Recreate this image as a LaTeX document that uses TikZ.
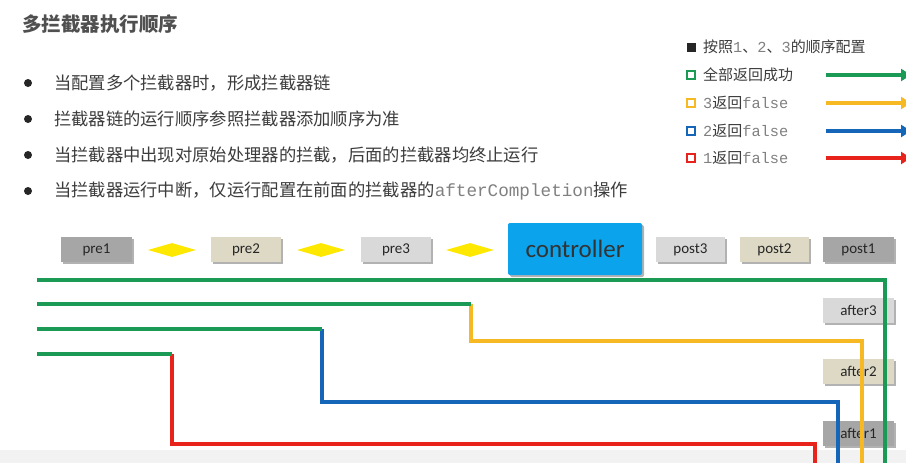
\documentclass[tikz,border=0pt]{standalone}
\usepackage{fontspec}
\setmainfont{Carlito}
\newfontfamily\cjk{Noto Sans CJK SC}
\newfontfamily\monof[Scale=1.02]{Liberation Mono}
\usetikzlibrary{shapes.geometric,shadows,arrows.meta}
\definecolor{gA}{HTML}{1B9A55}
\definecolor{yA}{HTML}{F7B923}
\definecolor{bA}{HTML}{1565B8}
\definecolor{rA}{HTML}{E8231C}
\definecolor{txt}{HTML}{3C3C3C}
\definecolor{mtxt}{HTML}{808080}
\definecolor{dgray}{HTML}{A6A6A6}
\definecolor{beige}{HTML}{DDD9C4}
\definecolor{lgray}{HTML}{D9D9D9}
\definecolor{ctrl}{HTML}{0AA3EC}
\definecolor{dia}{HTML}{FFE800}
\newcommand{\mtext}[1]{{\monof\color{mtxt}#1}}
\begin{document}
\begin{tikzpicture}[x=1pt,y=-1pt,
  box/.style={inner sep=0pt, minimum height=25pt, font=\fontsize{15}{15}\selectfont, text=black!85,
    drop shadow={shadow xshift=2pt,shadow yshift=-2pt,opacity=0.3,fill=black}},
  dmd/.style={diamond, fill=dia, inner sep=0pt, minimum width=48pt, minimum height=14pt},
  flow/.style={line width=4pt},
  bullet/.style={circle, fill=black!85, inner sep=0pt, minimum size=8pt},
  btext/.style={anchor=west, inner sep=0pt, text=txt, font=\fontsize{17.3}{17.3}\selectfont\cjk},
  ltext/.style={anchor=west, inner sep=0pt, text=txt, font=\fontsize{15}{15}\selectfont\cjk},
  lsq/.style={draw, line width=2pt, minimum size=8pt, inner sep=0pt},
  larrow/.style={line width=4pt, -{Triangle[length=10pt,width=12pt]}}]
\clip (0,0) rectangle (906,463);
\fill[white] (0,0) rectangle (906,463);
\fill[black!5] (0,450) rectangle (906,463);

% title
\node[anchor=west, inner sep=0pt, text=txt!90, font=\fontsize{19.5}{19.5}\selectfont\cjk\bfseries] (title) at (22,24) {多拦截器执行顺序};

% bullets
\node[bullet] (b1) at (28,83) {};
\node[bullet] (b2) at (28,119) {};
\node[bullet] (b3) at (28,155) {};
\node[bullet] (b4) at (28,191) {};
\node[btext] (t1) at (54,83) {当配置多个拦截器时，形成拦截器链};
\node[btext] (t2) at (54,119) {拦截器链的运行顺序参照拦截器添加顺序为准};
\node[btext] (t3) at (54,155) {当拦截器中出现对原始处理器的拦截，后面的拦截器均终止运行};
\node[btext] (t4) at (54,191) {当拦截器运行中断，仅运行配置在前面的拦截器的\mtext{afterCompletion}操作};

% legend
\node[fill=black!85, minimum size=9pt, inner sep=0pt] (q0) at (691,47) {};
\node[lsq, draw=gA] (q1) at (691,75) {};
\node[lsq, draw=yA] (q2) at (691,103) {};
\node[lsq, draw=bA] (q3) at (691,131) {};
\node[lsq, draw=rA] (q4) at (691,158) {};
\node[ltext] (l0) at (703,47) {按照\mtext{1}、\mtext{2}、\mtext{3}的顺序配置};
\node[ltext] (l1) at (703,75) {全部返回成功};
\node[ltext] (l2) at (703,103) {\mtext{3}返回\mtext{false}};
\node[ltext] (l3) at (703,131) {\mtext{2}返回\mtext{false}};
\node[ltext] (l4) at (703,158) {\mtext{1}返回\mtext{false}};
\coordinate (a1s) at (826,75);  \coordinate (a1e) at (911,75);
\coordinate (a2s) at (826,103); \coordinate (a2e) at (911,103);
\coordinate (a3s) at (826,131); \coordinate (a3e) at (911,131);
\coordinate (a4s) at (826,158); \coordinate (a4e) at (911,158);
\draw[larrow, gA] (a1s) -- (a1e);
\draw[larrow, yA] (a2s) -- (a2e);
\draw[larrow, bA] (a3s) -- (a3e);
\draw[larrow, rA] (a4s) -- (a4e);

% chain
\node[box, fill=dgray, minimum width=71pt] (pre1) at (96.5,249.5) {pre1};
\node[dmd] (d1) at (172,250) {};
\node[box, fill=beige, minimum width=70pt] (pre2) at (246,249.5) {pre2};
\node[dmd] (d2) at (321,250) {};
\node[box, fill=lgray, minimum width=70pt] (pre3) at (396,249.5) {pre3};
\node[dmd] (d3) at (470,250) {};
\node[box, fill=ctrl, minimum width=134pt, minimum height=52pt, rounded corners=2pt,
  font=\fontsize{25}{25}\selectfont, text=black!80] (ctl) at (575,249) {controller};
\node[box, fill=lgray, minimum width=69pt] (post3) at (690.5,249.5) {post3};
\node[box, fill=beige, minimum width=69pt] (post2) at (774.5,249.5) {post2};
\node[box, fill=dgray, minimum width=71pt] (post1) at (858.5,249.5) {post1};
\node[box, fill=lgray, minimum width=71pt] (after3) at (858.5,310.5) {after3};
\node[box, fill=beige, minimum width=71pt] (after2) at (858.5,371.5) {after2};
\node[box, fill=dgray, minimum width=71pt] (after1) at (858.5,433) {after1};

% flows
\coordinate (s1) at (37,280); \coordinate (e1) at (885,470);
\coordinate (s2) at (37,304); \coordinate (k2) at (471,304); \coordinate (e2) at (862,470);
\coordinate (s3) at (37,329); \coordinate (k3) at (322,329); \coordinate (e3) at (838,470);
\coordinate (s4) at (37,354); \coordinate (k4) at (172,354); \coordinate (e4) at (815,470);
\draw[flow, gA] (s1) -| (e1);
\draw[flow, yA] (k2) |- (862,341) -- (e2);
\draw[flow, gA] (s2) -- (k2);
\draw[flow, bA] (k3) |- (838,402) -- (e3);
\draw[flow, gA] (s3) -- (k3);
\draw[flow, rA] (k4) |- (815,444) -- (e4);
\draw[flow, gA] (s4) -- (k4);
\end{tikzpicture}
\end{document}
